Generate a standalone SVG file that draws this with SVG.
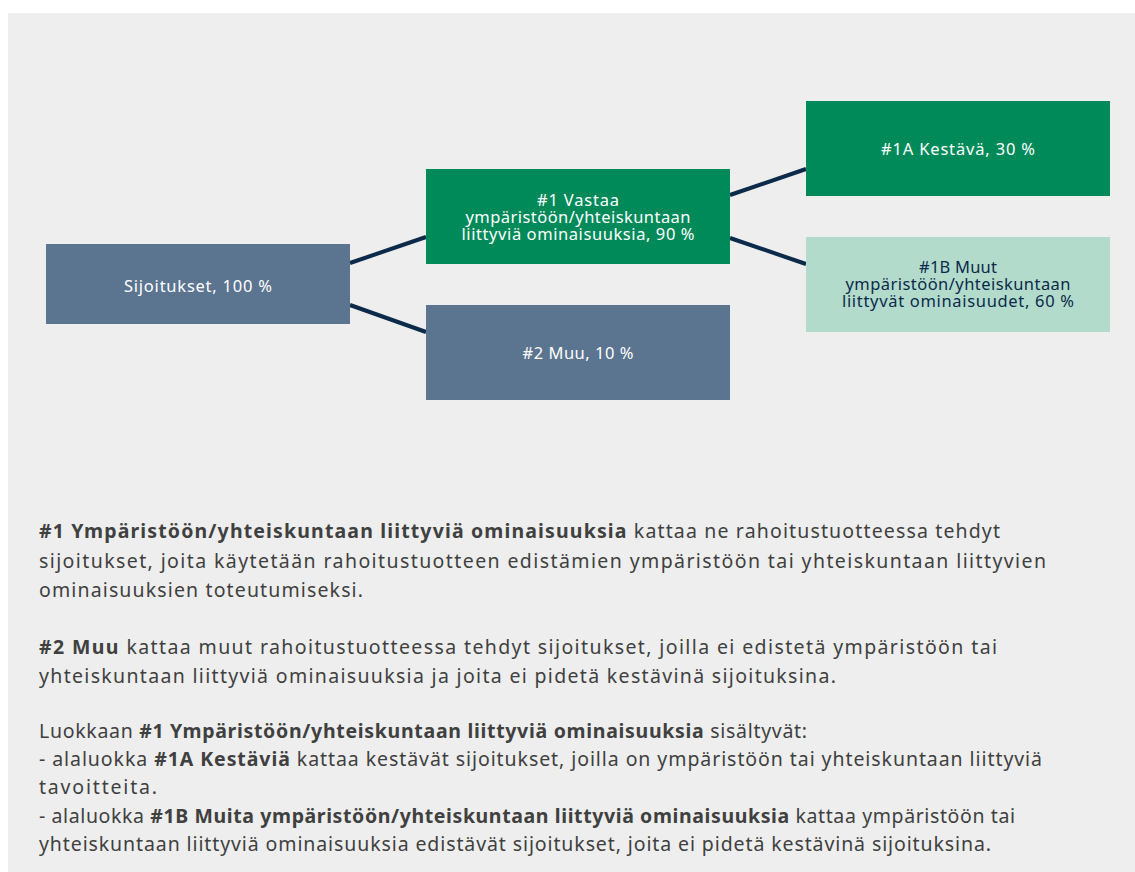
<svg xmlns="http://www.w3.org/2000/svg" width="1135" height="872" viewBox="0 0 1135 872">
<style>
.bx{stroke:none}
.slate{fill:#5b7490}
.green{fill:#008a59}
.mint{fill:#b2dbcc}
.lbl{font-family:"Noto Sans","Liberation Sans",sans-serif;font-size:16.5px;text-anchor:middle;fill:#ffffff}
.dark{fill:#0c2a4a}
.con{stroke:#0c2a4a;stroke-width:4;fill:none}
.body{font-family:"Noto Sans","Liberation Sans",sans-serif;font-size:19.5px;fill:#404040}
.b{font-weight:bold}
</style>
<rect x="0" y="0" width="1135" height="872" fill="#ffffff"/>
<rect x="8" y="13" width="1127" height="859" fill="#edeeed"/>
<g id="connectors">
<path class="con" d="M350,263 L426,237"/>
<path class="con" d="M350,305 L426,332"/>
<path class="con" d="M730,195 L806,169"/>
<path class="con" d="M730,238 L806,264"/>
</g>
<g id="node-sijoitukset">
<rect class="bx slate" x="46" y="244" width="304" height="80"/>
<text class="lbl" x="198" y="292" textLength="148">Sijoitukset, 100 %</text>
</g>
<g id="node-1">
<rect class="bx green" x="426" y="169" width="304" height="95"/>
<text class="lbl" x="578" y="206" textLength="82">#1 Vastaa</text>
<text class="lbl" x="578" y="223" textLength="225">ympäristöön/yhteiskuntaan</text>
<text class="lbl" x="578" y="240" textLength="233">liittyviä ominaisuuksia, 90 %</text>
</g>
<g id="node-2">
<rect class="bx slate" x="426" y="305" width="304" height="95"/>
<text class="lbl" x="578" y="359" textLength="111">#2 Muu, 10 %</text>
</g>
<g id="node-1a">
<rect class="bx green" x="806" y="101" width="304" height="95"/>
<text class="lbl" x="958" y="155" textLength="154">#1A Kestävä, 30 %</text>
</g>
<g id="node-1b">
<rect class="bx mint" x="806" y="237" width="304" height="95"/>
<text class="lbl dark" x="958" y="273" textLength="78">#1B Muut</text>
<text class="lbl dark" x="958" y="290" textLength="225">ympäristöön/yhteiskuntaan</text>
<text class="lbl dark" x="958" y="307" textLength="232">liittyvät ominaisuudet, 60 %</text>
</g>
<g id="description">
<text class="body" x="39" y="538" textLength="961"><tspan class="b">#1 Ympäristöön/yhteiskuntaan liittyviä ominaisuuksia</tspan> kattaa ne rahoitustuotteessa tehdyt</text>
<text class="body" x="39" y="568" textLength="1007">sijoitukset, joita käytetään rahoitustuotteen edistämien ympäristöön tai yhteiskuntaan liittyvien</text>
<text class="body" x="39" y="597" textLength="324">ominaisuuksien toteutumiseksi.</text>
<text class="body" x="39" y="654" textLength="958"><tspan class="b">#2 Muu</tspan> kattaa muut rahoitustuotteessa tehdyt sijoitukset, joilla ei edistetä ympäristöön tai</text>
<text class="body" x="39" y="683" textLength="797">yhteiskuntaan liittyviä ominaisuuksia ja joita ei pidetä kestävinä sijoituksina.</text>
<text class="body" x="39" y="738" textLength="768">Luokkaan <tspan class="b">#1 Ympäristöön/yhteiskuntaan liittyviä ominaisuuksia</tspan> sisältyvät:</text>
<text class="body" x="39" y="766" textLength="1003">- alaluokka <tspan class="b">#1A Kestäviä</tspan> kattaa kestävät sijoitukset, joilla on ympäristöön tai yhteiskuntaan liittyviä</text>
<text class="body" x="39" y="794" textLength="118">tavoitteita.</text>
<text class="body" x="39" y="823" textLength="976">- alaluokka <tspan class="b">#1B Muita ympäristöön/yhteiskuntaan liittyviä ominaisuuksia</tspan> kattaa ympäristöön tai</text>
<text class="body" x="39" y="851" textLength="952">yhteiskuntaan liittyviä ominaisuuksia edistävät sijoitukset, joita ei pidetä kestävinä sijoituksina.</text>
</g>
</svg>
